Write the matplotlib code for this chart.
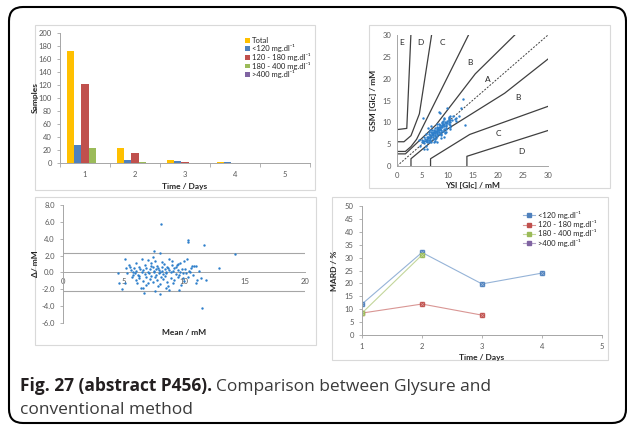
import numpy as np
import matplotlib
matplotlib.use("Agg")
import matplotlib.pyplot as plt
from matplotlib.patches import Rectangle, FancyBboxPatch
from matplotlib.ticker import FormatStrFormatter, MultipleLocator

plt.rcParams['font.family'] = ['Lato', 'DejaVu Sans']

W, H = 627, 425

# ---- data: samples per day (bar chart) ----
days = [1, 2, 3, 4, 5]
range_labels = ["Total", "<120 mg.dl⁻¹", "120 - 180 mg.dl⁻¹",
                "180 - 400 mg.dl⁻¹", ">400 mg.dl⁻¹"]
samples_total = [172, 23, 5, 1, 0]
samples_lt120 = [28, 5, 3, 1, 0]
samples_120_180 = [121, 16, 2, 0, 0]
samples_180_400 = [23, 2, 0, 0, 0]
samples_gt400 = [0, 0, 0, 0, 0]
bar_colors = ["#FFC000", "#4F81BD", "#C0504D", "#9BBB59", "#8064A2"]

# ---- data: Bland-Altman (mean of methods, GSM - YSI) ----
ba_mean = [8.1, 10.35, 10.35, 11.65, 14.25, 12.9, 11.45, 7.5, 8.0, 5.1,
           4.55, 4.65, 4.9, 5.1, 6.7, 6.45, 6.65, 7.6, 8.0, 8.75,
           8.5, 9.55, 10.0, 9.9, 11.1, 11.4, 11.8, 11.0, 11.0, 10.8,
           10.65, 11.25, 10.25, 10.0, 9.7, 9.5, 8.75, 9.0, 8.2, 7.4,
           7.0, 6.5, 6.0, 5.5, 5.2,
           5.3, 5.6, 5.75, 5.8, 5.9, 5.7, 6.0, 6.05, 6.2, 6.3,
           6.3, 6.4, 6.5, 6.6, 6.6, 6.75, 6.8, 6.9, 6.9, 7.0,
           7.05, 7.1, 7.15, 7.2, 7.3, 7.3, 7.4, 7.45, 7.5, 7.55,
           7.6, 7.6, 7.65, 7.7, 7.75, 7.8, 7.85, 7.9, 7.95, 8.0,
           8.05, 8.1, 8.15, 8.2, 8.3, 8.3, 8.35, 8.4, 8.5, 8.55,
           8.6, 8.6, 8.7, 8.8, 8.9, 8.9, 9.0, 9.05, 9.1, 9.2,
           9.2, 9.3, 9.35, 9.5, 9.5, 9.6, 9.7, 9.8, 9.9, 10.1,
           10.2, 10.4, 10.5, 10.6, 6.1, 5.45, 6.25, 7.25, 8.45, 9.4,
           10.3, 7.85, 6.85, 8.65, 9.75, 5.95, 10.75]
ba_diff = [5.8, 3.9, 3.6, 3.3, 2.2, 0.55, -4.2, 2.5, 2.35, 1.6,
           -0.05, -1.3, -1.95, -1.2, -2.45, -1.9, -1.85, -2.2, -2.55, -2.05,
           -1.9, -2.05, -1.05, -0.7, -0.9, -0.65, -0.9, -1.3, 0.8, 0.8,
           0.75, 0.2, 1.65, 1.3, 1.1, 1.0, 1.65, 1.3, 1.2, 1.85,
           1.45, 1.6, 1.1, 0.6, 0.5,
           -0.1, 0.3, 0.1, -0.25, 0.5, -0.6, -0.9, 0.2, -0.3, 0.7,
           -0.7, 0.4, 0.0, -1.0, 0.3, -0.2, 0.9, 0.5, -0.6, 0.1,
           -1.3, -0.1, 0.35, -0.8, 1.1, -0.4, 0.6, -1.1, 0.0, 0.2,
           -0.6, 1.3, 0.4, -0.3, 0.8, -0.9, 0.5, -0.1, 0.25, 0.1,
           -1.4, -0.5, 0.6, 0.2, -0.2, -0.8, 1.0, 0.4, 0.1, -0.1,
           0.7, -1.1, 0.5, 0.3, 0.0, -0.7, 0.9, -1.3, 0.2, 0.5,
           -0.9, -0.2, 0.6, 0.3, -0.6, -0.3, 0.1, 0.4, -0.05, 0.4,
           -0.1, 0.2, 0.0, 0.5, -1.2, 0.9, -0.45, 0.75, -0.45, 0.85,
           -0.5, -1.6, -1.5, -1.6, -1.5, -0.05, -0.3]
loa_upper = 2.35
loa_lower = -2.25

# ---- Parkes consensus grid (type 1), mg/dl ----
grid_lines_mgdl = [
    [(0, 50), (30, 50), (140, 170), (280, 380), (430, 550)],
    [(50, 0), (50, 30), (170, 145), (385, 300), (550, 450)],
    [(0, 60), (30, 60), (50, 80), (70, 110), (260, 550)],
    [(120, 0), (120, 30), (260, 130), (550, 250)],
    [(0, 100), (25, 100), (50, 125), (80, 215), (125, 550)],
    [(250, 0), (250, 40), (550, 150)],
    [(0, 150), (35, 155), (50, 550)],
]
zone_labels = [("E", 1.0, 28.2), ("D", 4.6, 28.2), ("C", 9.1, 28.2),
               ("B", 14.5, 23.8), ("A", 18.0, 19.9), ("B", 24.0, 15.6),
               ("C", 20.1, 7.5), ("D", 24.8, 3.4)]

# ---- data: MARD per day ----
mard_days_lt120 = [1, 2, 3, 4]
mard_lt120 = [12, 32, 19.8, 24]
mard_days_120_180 = [1, 2, 3]
mard_120_180 = [8.5, 12, 7.7]
mard_days_180_400 = [1, 2]
mard_180_400 = [8.5, 31]
mard_days_gt400 = []
mard_gt400 = []
line_colors = ["#95B3D7", "#D99694", "#C3D69B", "#B3A2C7"]

TICK = "#595959"
SPINE = "#A6A6A6"
LAB = "#262626"
DOT = "#2E7FCB"

fig = plt.figure(figsize=(W / 100, H / 100), dpi=100)
bg = fig.add_axes([0, 0, 1, 1])
bg.set_xlim(0, W)
bg.set_ylim(H, 0)
bg.axis("off")

bg.add_patch(FancyBboxPatch((9, 7), 617, 416, boxstyle="round,pad=0,rounding_size=14",
                            fc="white", ec="black", lw=1.5))
for (l, t, r, b) in [(35, 25, 315, 190), (369, 25, 610, 188),
                     (35, 197, 316, 345), (332, 197, 608, 360)]:
    bg.add_patch(Rectangle((l, t), r - l, b - t, fc="white", ec="#D9D9D9", lw=0.8))


def px_axes(l, t, r, b):
    ax = fig.add_axes([l / W, 1 - b / H, (r - l) / W, (b - t) / H])
    ax.set_facecolor("none")
    for s in ["top", "right"]:
        ax.spines[s].set_visible(False)
    for s in ["left", "bottom"]:
        ax.spines[s].set_color(SPINE)
        ax.spines[s].set_linewidth(0.7)
    ax.tick_params(labelsize=5.5, colors=SPINE, labelcolor=TICK, width=0.6, length=2.5)
    return ax


# ---------------- bar chart ----------------
ax1 = px_axes(60, 33, 310, 163)
series = [samples_total, samples_lt120, samples_120_180, samples_180_400, samples_gt400]
bw = 0.144
x = np.array(days, dtype=float)
for i, (vals, lab, col) in enumerate(zip(series, range_labels, bar_colors)):
    ax1.bar(x + (i - 2) * bw, vals, width=bw, color=col, label=lab)
ax1.set_xlim(0.5, 5.5)
ax1.set_ylim(0, 200)
ax1.yaxis.set_major_locator(MultipleLocator(20))
ax1.set_xticks(days)
ax1.set_xticks(np.arange(0.5, 5.6, 1.0), minor=True)
ax1.tick_params(axis="x", which="major", length=0, pad=6)
ax1.tick_params(axis="x", which="minor", length=3, colors=SPINE, width=0.6)
ax1.set_ylabel("Samples", fontsize=6, fontweight="bold", color=LAB)
ax1.yaxis.set_label_coords(-0.085, 0.5)
ax1.set_xlabel("Time / Days", fontsize=6, fontweight="bold", color=LAB)
ax1.xaxis.set_label_coords(0.5, -0.15)
ax1.legend(loc="upper left", bbox_to_anchor=(0.725, 1.0), frameon=False, fontsize=5.5,
           handlelength=0.6, handleheight=0.6, handletextpad=0.3, labelspacing=0.08,
           borderpad=0, labelcolor=LAB)

# ---------------- error grid ----------------
ax2 = px_axes(397, 35, 548, 166)
ysi = np.array(ba_mean) - np.array(ba_diff) / 2
gsm = np.array(ba_mean) + np.array(ba_diff) / 2
for pts in grid_lines_mgdl:
    arr = np.array(pts) / 18.0
    ax2.plot(arr[:, 0], arr[:, 1], color="#404040", lw=0.9)
ax2.plot([0, 30], [0, 30], color="#404040", lw=0.7, ls=(0, (2, 1.5)))
ax2.scatter(ysi, gsm, s=3, color=DOT, lw=0, zorder=3)
for lab, zx, zy in zone_labels:
    ax2.text(zx, zy, lab, fontsize=6, color=LAB, ha="center", va="center")
ax2.set_xlim(0, 30)
ax2.set_ylim(0, 30)
ax2.set_xticks(range(0, 31, 5))
ax2.set_yticks(range(0, 31, 5))
ax2.tick_params(length=0, pad=4)
ax2.set_xlabel("YSI [Glc] / mM", fontsize=6, fontweight="bold", color=LAB)
ax2.xaxis.set_label_coords(0.5, -0.12)
ax2.set_ylabel("GSM [Glc] / mM", fontsize=6, fontweight="bold", color=LAB)
ax2.yaxis.set_label_coords(-0.13, 0.5)

# ---------------- Bland-Altman ----------------
ax3 = px_axes(63, 205, 305, 323)
ax3.axhline(loa_upper, color=SPINE, lw=0.8)
ax3.axhline(loa_lower, color=SPINE, lw=0.8)
ax3.scatter(ba_mean, ba_diff, s=3, color=DOT, lw=0, zorder=3)
ax3.set_xlim(0, 20)
ax3.set_ylim(-6, 8)
ax3.spines["bottom"].set_position(("data", 0))
ax3.set_xticks(range(0, 21, 5))
ax3.xaxis.set_tick_params(length=0, pad=4)
ax3.set_yticks(range(-6, 9, 2))
ax3.yaxis.set_major_formatter(FormatStrFormatter("%.1f"))
ax3.set_ylabel("Δ/ mM", fontsize=6, fontweight="bold", color=LAB)
ax3.yaxis.set_label_coords(-0.1, 0.5)
ax3.set_xlabel("Mean / mM", fontsize=6, fontweight="bold", color=LAB)
ax3.xaxis.set_label_coords(0.5, -0.05)

# ---------------- MARD ----------------
ax4 = px_axes(362, 206, 602, 335)
mard = [(mard_days_lt120, mard_lt120), (mard_days_120_180, mard_120_180),
        (mard_days_180_400, mard_180_400), (mard_days_gt400, mard_gt400)]
for (dx, dy), lab, lc, mc in zip(mard, range_labels[1:], line_colors, bar_colors[1:]):
    ax4.plot(dx, dy, color=lc, lw=0.8, marker="s", ms=3.2, mfc=mc, mec=mc, label=lab)
    ax4.plot(dx, dy, ls="none", marker="x", ms=2.4, mew=0.5, color=lc)
ax4.set_xlim(1, 5)
ax4.set_ylim(0, 50)
ax4.set_xticks(range(1, 6))
ax4.yaxis.set_major_locator(MultipleLocator(5))
ax4.set_ylabel("MARD / %", fontsize=6, fontweight="bold", color=LAB)
ax4.yaxis.set_label_coords(-0.1, 0.5)
ax4.set_xlabel("Time / Days", fontsize=6, fontweight="bold", color=LAB)
ax4.xaxis.set_label_coords(0.5, -0.15)
ax4.legend(loc="upper left", bbox_to_anchor=(0.655, 0.99), frameon=False, fontsize=5.5,
           handlelength=1.6, handletextpad=0.3, labelspacing=0.15, borderpad=0,
           labelcolor=LAB)

# ---------------- caption ----------------
renderer = fig.canvas.get_renderer()
cap_font = ["Open Sans", "DejaVu Sans"]
t1 = bg.text(20, 391, "Fig. 27 (abstract P456).", fontsize=12.5, fontweight="bold",
             family=cap_font, color="#231F20", va="baseline", ha="left")
ext = t1.get_window_extent(renderer)
x_end = bg.transData.inverted().transform((ext.x1, 0))[0] + 4
bg.text(x_end, 391, "Comparison between Glysure and", fontsize=12.5,
        family=cap_font, color="#3A3A3A", va="baseline", ha="left")
bg.text(20, 414, "conventional method", fontsize=12.5, family=cap_font,
        color="#3A3A3A", va="baseline", ha="left")

fig.savefig("out.png", dpi=100)
